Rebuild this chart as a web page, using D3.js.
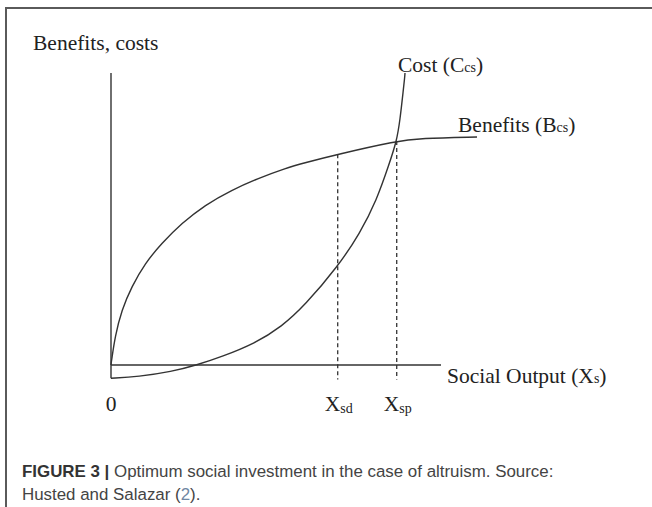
<!DOCTYPE html>
<html>
<head>
<meta charset="utf-8">
<script src="https://cdn.jsdelivr.net/npm/d3@7"></script>
<style>
  body { margin: 0; background: #fff; }
  svg { display: block; }
</style>
</head>
<body>
<svg id="chart" width="652" height="507"></svg>
<script>
// Curve values (arbitrary units, x axis runs 0..100)
const benefitX = [0, 0.05, 0.21, 1.21, 3.24, 6.27, 10.3, 15.36, 21.42, 28.48, 36.58, 44.64, 52.73, 58.79, 68.7, 86.58, 93.64, 110.91];
const benefitY = [0, 0.8, 1.71, 9.69, 18.84, 26.82, 34.83, 41.68, 48.53, 54.79, 59.93, 63.94, 67.36, 69.28, 72.16, 76.71, 77.64, 78.08];

const costX = [0, 8.27, 18.39, 25.97, 33.55, 43.64, 51.73, 58.79, 68.7, 75.45, 80.52, 84.2, 86.58, 87.58, 88.58, 89.0, 89.09];
const costY = [-4.55, -4.01, -2.29, 0, 2.84, 7.43, 13.12, 20.5, 33.66, 45.1, 56.51, 68.5, 76.71, 83.9, 94.18, 98.5, 100];

// the two equilibrium outputs (dashed guides)
const markNames = ["sd", "sp"];
const markValues = [68.7, 86.58];
const markTops = [72.16, 76.71];

const yAxisLabel = "Benefits, costs";
const xAxisLabel = "Social Output (X";
const captionBold = "FIGURE 3 |";
const captionLine1 = " Optimum social investment in the case of altruism. Source:";
const captionLine2a = "Husted and Salazar (";
const captionRef = "2";
const captionLine2b = ").";

const svg = d3.select("#chart");

const x = d3.scaleLinear().domain([0, 100]).range([111, 441]);
const y = d3.scaleLinear().domain([0, 100]).range([365, 73]);

const ink = "#333";
const serif = "'Liberation Serif', 'Times New Roman', serif";
const big = 21.5, small = 14;

// frame: top and left rules only
svg.append("path")
  .attr("d", "M6,507 L6,8 L652,8")
  .attr("fill", "none")
  .attr("stroke", "#5a5a5a")
  .attr("stroke-width", 2);

// axes
svg.append("line")
  .attr("x1", x(0)).attr("x2", x(0))
  .attr("y1", y(100)).attr("y2", y(-4.55))
  .attr("stroke", ink).attr("stroke-width", 1.4);

svg.append("line")
  .attr("x1", x(0)).attr("x2", x(100))
  .attr("y1", y(0)).attr("y2", y(0))
  .attr("stroke", ink).attr("stroke-width", 1.4);

const line = d3.line()
  .x(d => x(d[0]))
  .y(d => y(d[1]))
  .curve(d3.curveBasis);

svg.append("path")
  .datum(d3.zip(benefitX, benefitY))
  .attr("d", line)
  .attr("fill", "none")
  .attr("stroke", ink)
  .attr("stroke-width", 1.4);

svg.append("path")
  .datum(d3.zip(costX, costY))
  .attr("d", line)
  .attr("fill", "none")
  .attr("stroke", ink)
  .attr("stroke-width", 1.4);

// dashed guides
markValues.forEach((v, i) => {
  svg.append("line")
    .attr("x1", x(v)).attr("x2", x(v))
    .attr("y1", y(markTops[i])).attr("y2", y(-5))
    .attr("stroke", ink)
    .attr("stroke-width", 1.3)
    .attr("stroke-dasharray", "4 3");

  const t = svg.append("text")
    .attr("x", x(v) - 13)
    .attr("y", 411)
    .attr("font-family", serif)
    .attr("font-size", big)
    .attr("fill", "#222");
  t.append("tspan").text("X");
  t.append("tspan").attr("font-size", small).attr("dy", 2).text(markNames[i]);
});

svg.append("text")
  .attr("x", x(0))
  .attr("y", 411)
  .attr("text-anchor", "middle")
  .attr("font-family", serif)
  .attr("font-size", big)
  .attr("fill", "#222")
  .text("0");

// labels
svg.append("text")
  .attr("x", 33).attr("y", 50)
  .attr("font-family", serif)
  .attr("font-size", big)
  .attr("fill", "#222")
  .text(yAxisLabel);

const costLbl = svg.append("text")
  .attr("x", 398).attr("y", 72)
  .attr("font-family", serif)
  .attr("font-size", big)
  .attr("fill", "#222");
costLbl.append("tspan").text("Cost (C");
costLbl.append("tspan").attr("font-size", small).text("cs");
costLbl.append("tspan").text(")");

const benLbl = svg.append("text")
  .attr("x", 458).attr("y", 132)
  .attr("font-family", serif)
  .attr("font-size", big)
  .attr("fill", "#222");
benLbl.append("tspan").text("Benefits (B");
benLbl.append("tspan").attr("font-size", small).text("cs");
benLbl.append("tspan").text(")");

const xLbl = svg.append("text")
  .attr("x", x(100) + 6).attr("y", 383)
  .attr("font-family", serif)
  .attr("font-size", big)
  .attr("fill", "#222");
xLbl.append("tspan").text(xAxisLabel);
xLbl.append("tspan").attr("font-size", small).text("s");
xLbl.append("tspan").text(")");

// caption
const sans = "'Liberation Sans', Arial, sans-serif";
const capSize = 16.9;
const cap1 = svg.append("text")
  .attr("x", 22).attr("y", 477)
  .attr("font-family", sans)
  .attr("font-size", capSize)
  .attr("fill", "#444");
cap1.append("tspan").attr("font-weight", "bold").attr("fill", "#333").text(captionBold);
cap1.append("tspan").text(captionLine1);

const cap2 = svg.append("text")
  .attr("x", 22).attr("y", 500)
  .attr("font-family", sans)
  .attr("font-size", capSize)
  .attr("fill", "#444");
cap2.append("tspan").text(captionLine2a);
cap2.append("tspan").attr("fill", "#6f87a3").text(captionRef);
cap2.append("tspan").text(captionLine2b);
</script>
</body>
</html>
